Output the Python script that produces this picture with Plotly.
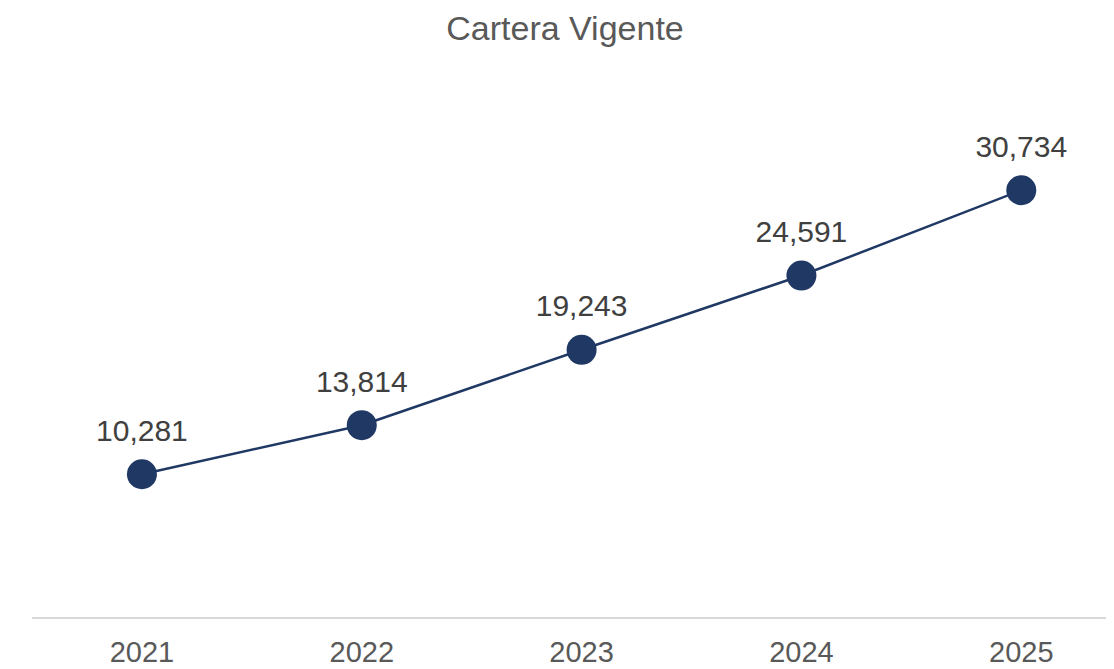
import plotly.graph_objects as go

anios = ["2021", "2022", "2023", "2024", "2025"]
cartera = [10281, 13814, 19243, 24591, 30734]
etiquetas = [f"{v:,}" for v in cartera]

fig = go.Figure()
fig.add_trace(go.Scatter(
    x=anios, y=cartera, mode="lines+markers",
    line=dict(color="#1f3864", width=2.5),
    marker=dict(size=30, color="#1f3864"),
    hoverinfo="skip",
))
# etiquetas: marcador transparente más grande para separar el texto
fig.add_trace(go.Scatter(
    x=anios, y=cartera, mode="markers+text",
    marker=dict(size=40, color="rgba(0,0,0,0)"),
    text=etiquetas, textposition="top center",
    textfont=dict(family="Liberation Sans, Arial", size=30, color="#404040"),
    cliponaxis=False, hoverinfo="skip",
))

fig.update_layout(
    width=1114, height=669,
    margin=dict(l=24, r=4, t=123, b=60),
    paper_bgcolor="white", plot_bgcolor="white",
    showlegend=False,
    title=dict(text="Cartera Vigente", x=0.5, xanchor="center",
               y=0.970, yref="container", yanchor="middle",
               font=dict(family="Liberation Sans, Arial", size=34, color="#595959")),
    xaxis=dict(type="category", range=[-0.5, 4.44], showgrid=False,
               showline=True, linecolor="#d9d9d9", linewidth=2,
               ticks="", ticklabelstandoff=8,
               tickfont=dict(family="Liberation Sans, Arial", size=29, color="#595959")),
    yaxis=dict(range=[0, 35000], visible=False, showgrid=False, zeroline=False),
)

fig.write_html("out.html")
